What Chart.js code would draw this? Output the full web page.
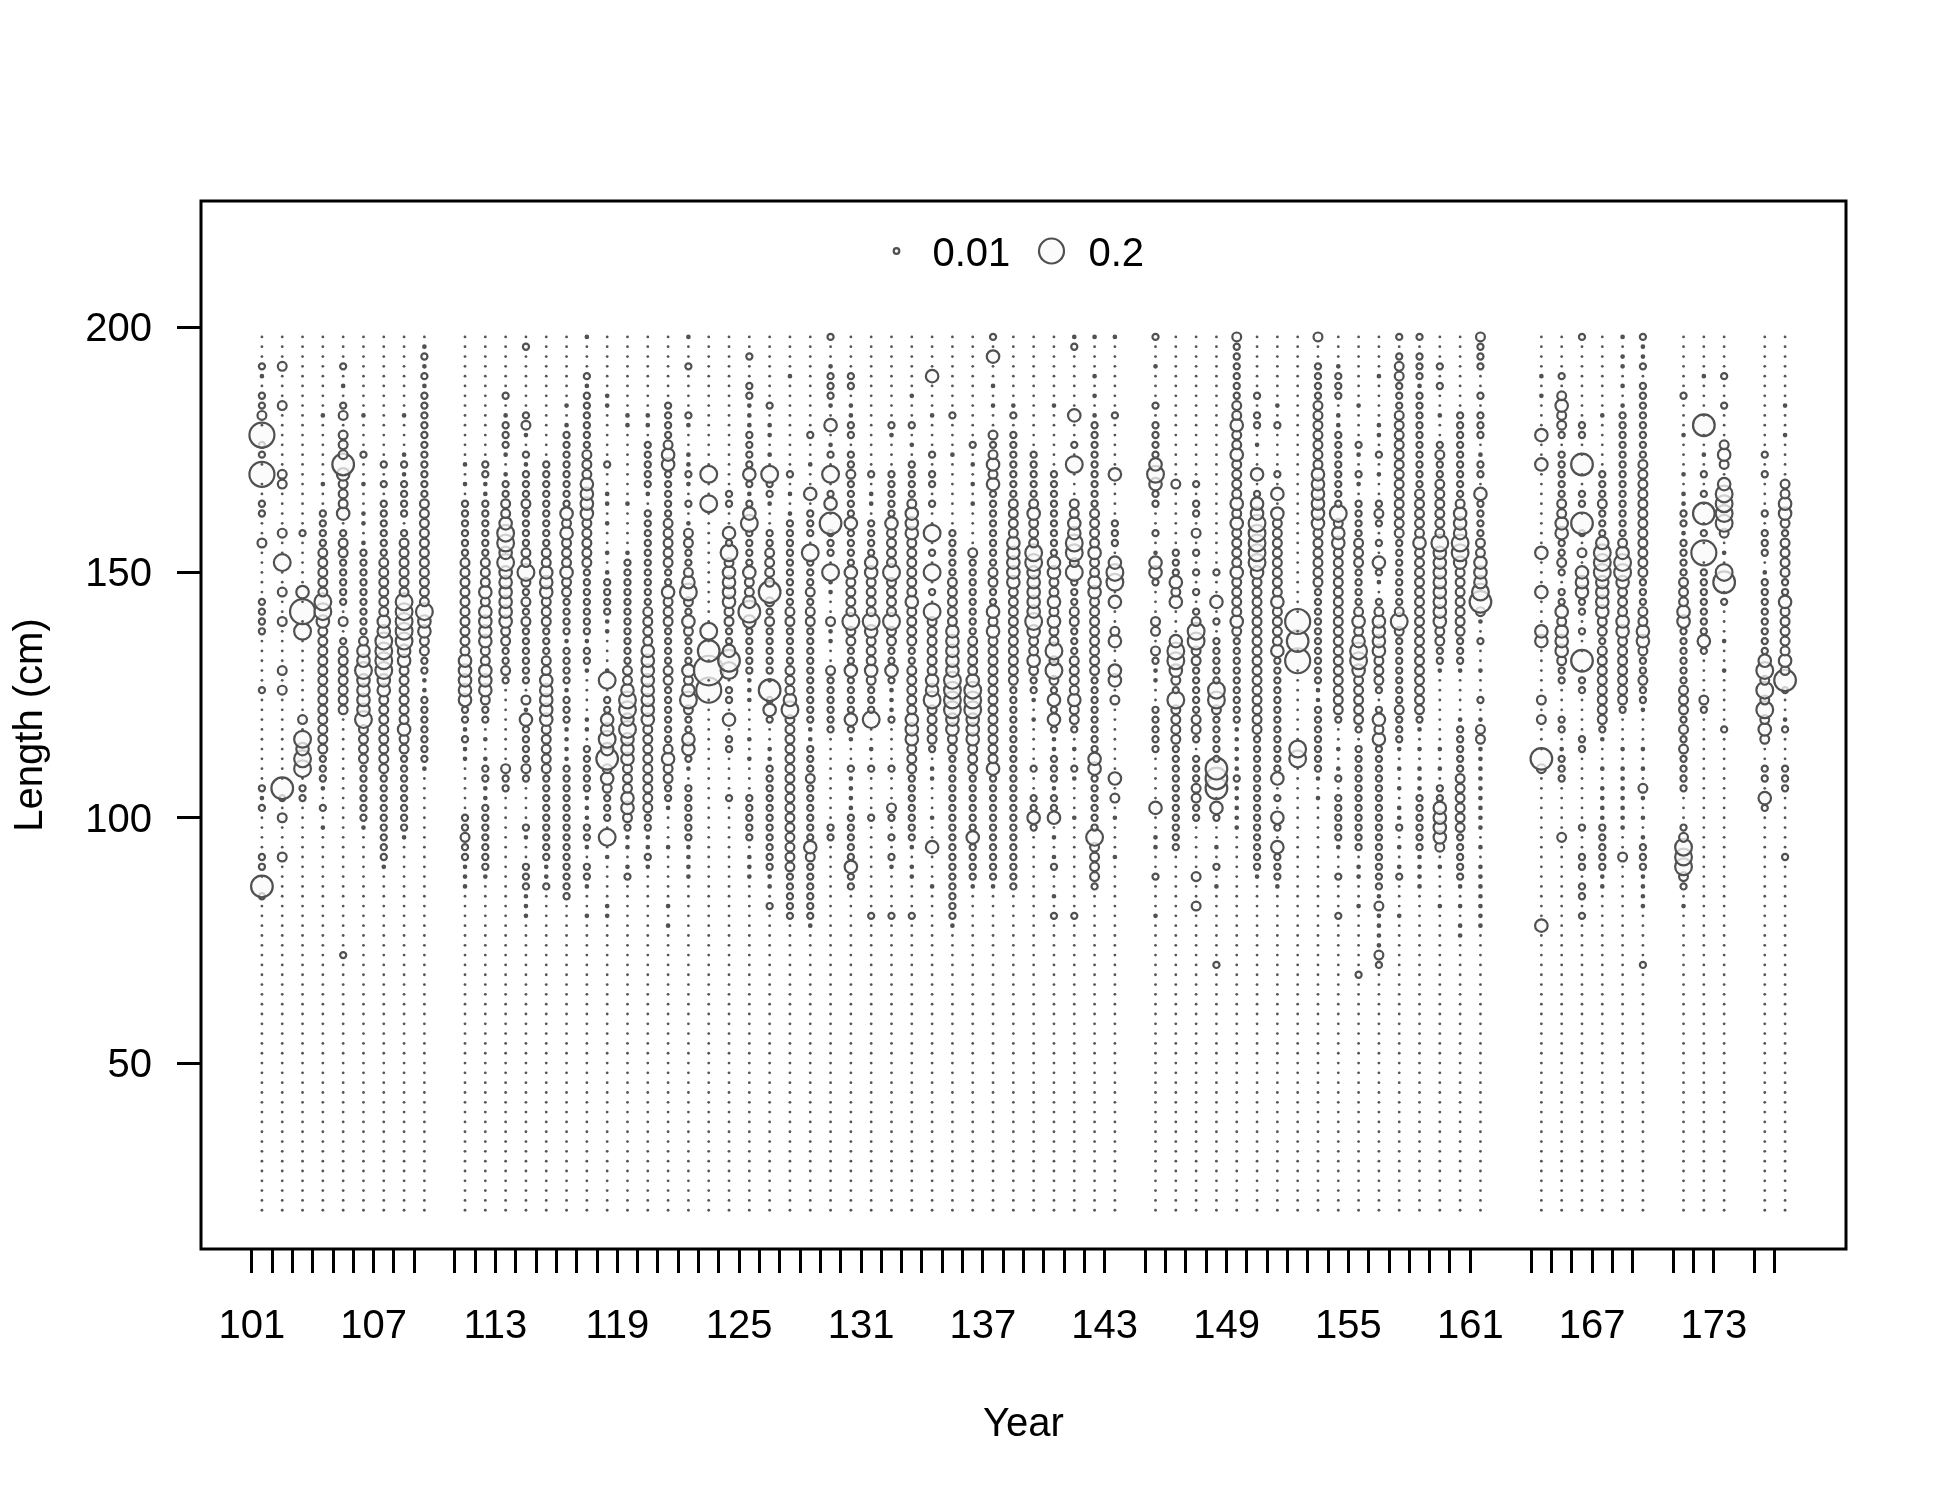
<!DOCTYPE html>
<html lang="en">
<head>
  <meta charset="UTF-8" />
  <title>Length composition bubbles</title>
  <style>
    html, body { margin: 0; padding: 0; background: #fff; }
    #wrap { width: 1950px; height: 1500px; }
  </style>
</head>
<body>
<div id="wrap"><canvas id="bubbles" width="1950" height="1500"></canvas></div>

<script src="https://cdn.jsdelivr.net/npm/chart.js"></script>
<script>
  // years with samples (110, 144, 162, 163, 170, 174 have none)
  const years = [101, 102, 103, 104, 105, 106, 107, 108, 109,
    111, 112, 113, 114, 115, 116, 117, 118, 119, 120, 121, 122, 123, 124, 125, 126, 127, 128, 129, 130,
    131, 132, 133, 134, 135, 136, 137, 138, 139, 140, 141, 142, 143,
    145, 146, 147, 148, 149, 150, 151, 152, 153, 154, 155, 156, 157, 158, 159, 160, 161,
    164, 165, 166, 167, 168, 169, 171, 172, 173, 175, 176];

  // length bins (cm)
  const lengths = [20, 22, 24, 26, 28, 30, 32, 34, 36, 38, 40, 42, 44, 46, 48, 50, 52, 54, 56, 58,
    60, 62, 64, 66, 68, 70, 72, 74, 76, 78, 80, 82, 84, 86, 88, 90, 92, 94, 96, 98,
    100, 102, 104, 106, 108, 110, 112, 114, 116, 118, 120, 122, 124, 126, 128, 130, 132, 134, 136, 138,
    140, 142, 144, 146, 148, 150, 152, 154, 156, 158, 160, 162, 164, 166, 168, 170, 172, 174, 176, 178,
    180, 182, 184, 186, 188, 190, 192, 194, 196, 198];

  // proportion read for each size step seen in the picture
  const sizeLevels = [0, 0.002, 0.012, 0.025, 0.05, 0.09, 0.15, 0.2, 0.28];

  // per year: "length:sizeStep" for every bin that is not empty
  const comps = [
    "192:2 190:1 186:2 184:2 182:3 178:7 176:2 174:2 170:7 164:2 162:2 156:3 144:2 142:2 140:2 138:2 126:2 106:2 104:1 102:2 92:2 90:2 86:6 84:2",
    "192:3 184:3 170:3 168:3 158:3 152:5 146:3 140:3 130:3 126:3 106:6 104:2 100:3 92:3",
    "158:2 146:4 142:7 138:5 120:3 116:5 114:4 112:5 110:5 106:2 104:2",
    "182:1 168:1 162:2 160:2 158:2 156:2 154:3 152:3 150:3 148:3 146:3 144:5 142:5 140:4 138:3 136:3 134:3 132:3 130:3 128:3 126:3 124:3 122:3 120:3 118:3 116:3 114:3 112:2 110:2 108:2 106:1 102:2 98:1",
    "192:2 188:1 184:2 182:3 178:3 176:3 174:3 172:6 170:4 168:3 166:3 164:3 162:4 158:2 156:3 154:3 152:2 150:2 148:2 146:2 144:2 140:3 136:2 134:3 132:3 130:3 128:3 126:3 124:3 122:3 72:2",
    "182:1 174:2 168:1 162:1 160:1 156:1 154:2 152:2 150:2 148:2 146:2 144:2 142:2 140:2 138:2 136:3 134:4 132:4 130:5 128:4 126:4 124:4 122:4 120:5 118:3 116:3 114:3 112:3 110:2 108:2 106:2 104:2 102:2 100:2 98:1",
    "172:2 168:2 164:2 162:2 160:2 158:2 156:2 154:2 152:3 150:3 148:3 146:3 144:3 142:3 140:4 138:4 136:5 134:5 132:5 130:5 128:4 126:4 124:3 122:3 120:3 118:3 116:3 114:3 112:3 110:3 108:2 106:2 104:2 102:2 100:2 98:2 96:2 94:2 92:2 90:1",
    "182:1 174:1 172:2 170:1 168:2 166:2 164:2 162:2 158:2 156:3 154:3 152:3 150:3 148:3 146:3 144:5 142:5 140:5 138:5 136:5 134:4 132:4 130:3 128:3 126:3 124:3 122:3 120:3 118:4 116:3 114:3 112:2 110:2 108:2 106:2 104:2 102:2 100:2 98:2 96:1",
    "196:1 194:2 192:1 190:2 188:1 186:2 184:2 182:2 180:2 178:2 176:2 174:2 172:2 170:2 168:2 166:2 164:3 162:3 160:3 158:3 156:3 154:3 152:3 150:3 148:3 146:3 144:3 142:5 140:4 138:4 136:3 134:3 132:2 130:2 128:1 126:1 124:2 122:2 120:2 118:2 116:2 114:2 112:2 110:1",
    "172:1 168:1 164:2 162:2 160:2 158:2 156:2 154:2 152:3 150:3 148:3 146:3 144:3 142:3 140:3 138:3 136:3 134:3 132:4 130:4 128:4 126:4 124:4 122:2 120:2 118:1 116:2 114:1 112:1 100:2 98:2 96:3 94:2 92:2 90:1 88:1 86:1",
    "172:2 170:2 168:1 166:1 164:2 162:2 160:2 158:2 156:2 154:2 152:3 150:3 148:3 146:4 144:3 142:4 140:4 138:4 136:4 134:3 132:3 130:4 128:4 126:4 124:3 122:2 120:2 116:1 112:1 110:2 108:2 106:1 104:1 102:2 100:2 98:2 96:2 94:2 92:2 90:2 88:1",
    "186:2 182:1 180:2 178:2 176:2 174:1 170:1 168:2 166:2 164:3 162:3 160:4 158:5 156:5 154:4 152:5 150:4 148:4 146:4 144:4 142:4 140:4 138:3 136:3 134:2 132:2 130:3 128:2 110:3 108:2 106:2",
    "196:2 182:2 180:3 178:1 174:2 172:1 170:2 168:2 166:2 164:3 162:2 160:2 158:2 156:2 154:3 152:3 150:5 148:3 146:2 144:3 142:2 140:3 138:2 136:2 134:2 132:2 130:2 128:2 124:3 122:1 120:4 118:2 116:2 114:2 112:2 110:3 108:2 98:2 96:1 90:2 88:2 86:2 84:1 82:1 80:1",
    "172:2 170:2 168:2 166:2 164:2 162:2 160:2 158:2 156:2 154:3 152:3 150:4 148:4 146:4 144:3 142:3 140:3 138:2 136:2 134:2 132:3 130:3 128:4 126:4 124:4 122:4 120:4 118:3 116:3 114:3 112:3 110:3 108:2 106:2 104:2 102:2 100:2 98:2 96:2 94:2 92:2 90:1 88:1 86:2",
    "184:1 180:1 178:2 176:2 174:2 172:2 170:2 168:2 166:2 164:2 162:4 160:3 158:4 156:3 154:3 152:3 150:4 148:3 146:3 144:2 142:2 140:2 138:2 136:1 134:2 132:2 130:2 128:2 126:1 124:2 122:2 120:2 118:1 116:1 114:1 112:1 110:2 108:2 106:2 104:2 102:2 100:2 98:2 96:2 94:2 92:2 90:2 88:2 86:2 84:2",
    "198:1 190:2 188:1 186:2 184:2 182:2 180:2 178:2 176:2 174:3 172:3 170:3 168:4 166:4 164:4 162:4 160:3 158:3 156:3 154:3 152:3 150:2 148:2 146:2 144:2 142:2 140:2 138:2 136:1 134:2 132:2 130:1 120:1 118:1 114:2 112:2 110:2 108:2 106:2 104:1 102:1 100:1 98:2 96:2 94:1 90:2 88:2 86:1 80:1",
    "186:1 184:1 172:2 166:1 164:1 160:1 154:1 150:1 148:2 146:2 144:2 142:2 140:1 138:1 130:1 128:5 124:2 122:2 120:4 118:4 116:5 114:4 112:6 110:3 108:4 106:3 104:2 102:2 100:2 96:5 92:1 82:1 80:1",
    "182:1 180:1 164:1 154:1 152:2 150:2 148:2 146:2 144:2 142:2 140:2 138:2 136:2 134:2 132:2 130:3 128:3 126:4 124:5 122:5 120:4 118:5 116:4 114:4 112:4 110:3 108:3 106:3 104:4 102:4 100:3 98:2 96:1 94:1 90:1 88:2",
    "182:1 180:1 176:2 174:2 172:2 170:2 168:2 166:1 162:2 160:2 158:2 156:2 154:2 152:2 150:2 148:2 146:2 144:2 142:3 140:3 138:3 136:3 134:4 132:4 130:4 128:4 126:4 124:4 122:4 120:4 118:3 116:3 114:3 112:3 110:3 108:3 106:3 104:3 102:3 100:2 98:2 96:1 94:1 92:2 90:1",
    "184:2 182:2 180:2 178:2 176:3 174:4 172:4 170:2 168:2 166:2 164:2 162:2 160:3 158:3 156:3 154:3 152:3 150:2 148:2 146:4 144:3 142:3 140:3 138:2 136:2 134:2 132:2 130:3 128:3 126:2 124:2 122:2 120:2 118:2 116:2 114:3 112:4 110:3 108:3 106:2 104:2 102:1 94:1 82:1 78:1",
    "198:1 192:2 182:2 180:1 174:1 172:1 170:2 168:1 164:2 160:1 158:3 156:3 154:2 152:2 150:3 148:4 146:5 144:3 142:2 140:4 138:3 136:2 134:2 132:2 130:4 128:3 126:4 124:5 122:3 120:2 118:2 116:4 114:4 112:2 110:1 106:2 104:2 102:2 100:2 98:2 96:2 94:1 92:1 90:1 88:1",
    "170:5 164:5 138:5 134:6 130:8 126:7",
    "166:2 164:2 158:4 156:2 154:5 152:3 150:4 148:4 146:4 144:4 142:3 140:3 138:2 136:2 134:4 132:6 130:5 126:2 124:2 120:4 116:2 114:2 104:2",
    "194:2 188:2 186:2 184:1 182:1 180:1 178:2 176:2 174:2 172:2 170:4 168:2 166:1 164:2 162:4 160:5 158:2 156:2 154:2 152:2 150:4 148:3 146:3 144:4 142:6 140:4 138:2 136:2 134:2 132:2 130:2 128:1 126:1 124:1 116:1 112:1 104:2 102:2 100:2 98:2 96:2 92:1 90:1 88:1",
    "184:2 180:1 178:1 174:1 170:5 168:2 166:2 164:1 158:2 156:2 154:3 152:3 150:3 148:3 146:6 144:3 142:2 140:3 138:2 136:2 134:2 132:2 130:2 128:1 126:6 124:2 122:4 120:2 114:1 112:1 110:2 108:2 106:2 104:2 102:2 100:2 98:2 96:2 94:2 92:2 90:2 88:1 86:1 82:2",
    "190:1 170:2 166:1 162:1 160:2 158:2 156:2 154:2 152:2 150:2 148:2 146:2 144:2 142:3 140:3 138:2 136:2 134:2 132:2 130:3 128:3 126:3 124:4 122:5 120:3 118:3 116:3 114:3 112:3 110:3 108:3 106:3 104:3 102:3 100:3 98:3 96:3 94:3 92:3 90:3 88:2 86:2 84:2 82:2 80:2",
    "178:2 172:1 166:4 162:2 160:2 158:2 154:5 152:2 150:2 148:2 146:3 144:2 142:3 140:3 138:2 136:2 134:2 132:2 130:2 128:2 126:2 124:2 122:2 120:2 118:1 116:1 114:2 112:2 110:2 108:3 106:2 104:2 102:2 100:2 98:2 96:2 94:4 92:3 90:2 88:2 86:2 84:2 82:2 80:2 78:1",
    "198:2 192:1 190:2 188:2 186:2 184:1 180:4 176:1 174:2 170:5 166:2 164:4 160:6 158:2 156:2 154:2 150:5 148:1 146:1 140:3 138:1 136:1 130:3 128:2 126:2 124:2 122:2 120:2 118:2 98:2 96:2",
    "190:2 188:2 184:1 182:1 180:2 178:2 174:2 172:2 170:3 168:2 166:2 164:2 162:2 160:4 158:2 156:2 154:2 152:2 150:4 148:3 146:3 144:3 142:3 140:5 138:3 136:3 134:2 132:2 130:4 128:2 126:2 124:2 122:2 120:4 118:2 116:1 110:2 108:1 106:1 104:1 102:1 100:2 98:2 96:2 94:2 92:2 90:4 88:2 86:2",
    "170:2 166:1 164:1 160:2 158:2 156:2 154:2 152:4 150:4 148:3 146:3 144:3 142:3 140:5 138:4 136:3 134:3 132:3 130:4 128:3 126:2 124:2 122:2 120:5 114:1 110:2 100:2 80:2",
    "180:2 178:1 170:2 168:2 166:2 164:2 162:2 160:4 158:3 156:3 154:3 152:3 150:5 148:3 146:3 144:3 142:3 140:5 138:3 136:3 134:2 132:2 130:4 128:2 126:1 124:1 122:1 120:2 110:2 102:3 100:2 96:2 92:2 90:1 80:2",
    "186:1 180:2 176:1 172:2 170:2 168:2 166:2 164:3 162:4 160:4 158:4 156:3 154:3 152:3 150:3 148:3 146:3 144:4 142:3 140:3 138:3 136:3 134:2 132:2 130:3 128:3 126:3 124:3 122:3 120:4 118:4 116:4 114:3 112:3 110:3 108:2 106:2 104:2 102:2 100:2 98:2 96:2 94:1 90:1 88:1 80:2",
    "190:4 182:1 174:2 170:2 168:2 164:2 158:5 154:2 150:5 146:2 142:5 140:3 138:3 136:3 134:3 132:3 130:3 128:4 126:4 124:5 122:3 120:3 118:3 116:3 114:2 110:1 108:1 100:1 94:4 86:1",
    "182:2 174:1 158:2 156:2 154:2 152:2 150:2 148:3 146:3 144:3 142:3 140:3 138:4 136:4 134:4 132:4 130:4 128:5 126:5 124:5 122:5 120:4 118:4 116:3 114:3 112:2 110:2 108:2 106:2 104:2 102:2 100:2 98:2 96:2 94:2 92:2 90:2 88:2 86:2 84:2 82:2 80:2 78:1",
    "176:2 172:1 168:1 164:1 154:3 152:2 150:2 148:2 146:2 144:2 142:2 140:2 138:2 136:3 134:3 132:3 130:3 128:4 126:5 124:5 122:5 120:4 118:4 116:4 114:3 112:3 110:3 108:2 106:2 104:2 102:2 100:2 98:2 96:4 94:2 92:2 90:2 88:2 86:1",
    "198:2 194:4 188:1 184:1 178:3 176:2 174:3 172:4 170:3 168:4 166:2 164:2 162:2 160:2 158:2 156:2 154:2 152:2 150:3 148:3 146:2 144:2 142:4 140:3 138:4 136:3 134:3 132:3 130:3 128:3 126:3 124:3 122:3 120:3 118:3 116:3 114:3 112:3 110:4 108:2 106:2 104:2 102:2 100:2 98:2 96:2 94:2 92:2 90:2 88:2 86:1",
    "184:1 182:2 178:2 176:2 174:2 172:2 170:2 168:2 166:2 164:3 162:3 160:3 158:3 156:4 154:4 152:4 150:4 148:4 146:3 144:3 142:3 140:3 138:3 136:3 134:3 132:3 130:3 128:3 126:2 124:2 122:2 120:2 118:2 116:2 114:2 112:2 110:2 108:2 106:2 104:2 102:2 100:2 98:2 96:2 94:2 92:2 90:2 88:2 86:2",
    "174:2 172:2 170:2 168:2 166:2 164:3 162:4 160:3 158:3 156:3 154:5 152:5 150:4 148:4 146:4 144:4 142:4 140:5 138:4 136:3 134:3 132:4 130:3 128:2 126:2 124:1 120:1 110:2 104:2 102:2 100:4 98:2",
    "184:1 170:2 168:2 166:2 164:2 162:2 160:2 158:2 156:2 154:2 152:4 150:4 148:3 146:3 144:4 142:3 140:4 138:3 136:3 134:5 132:3 130:5 128:3 126:2 124:4 122:2 120:4 118:2 116:1 114:1 112:2 110:2 108:2 106:1 104:2 102:2 100:4 96:1 92:1 90:2 84:1 80:2",
    "198:1 196:2 182:4 176:2 172:5 164:3 162:3 160:4 158:4 156:5 154:5 152:3 150:5 148:2 146:2 144:2 142:3 140:3 138:2 136:2 134:2 132:3 130:3 128:3 126:3 124:4 122:3 120:3 118:2 114:1 110:2 108:1 100:1 80:2",
    "198:1 190:1 186:1 182:1 180:2 178:2 176:2 174:2 172:2 170:2 168:2 166:2 164:2 162:3 160:3 158:3 156:3 154:4 152:3 150:3 148:4 146:4 144:3 142:3 140:3 138:3 136:3 134:3 132:3 130:3 128:2 126:2 124:2 122:2 120:2 118:2 116:2 114:2 112:4 110:4 108:2 106:2 104:2 102:2 100:2 98:2 96:5 94:3 92:3 90:3 88:3 86:2",
    "198:1 182:2 170:4 160:2 158:2 156:2 152:4 150:5 148:5 144:4 138:3 136:4 130:4 128:4 124:3 108:4 104:3 100:1 92:1",
    "198:2 192:1 184:2 180:2 178:2 176:2 174:2 172:4 170:5 168:4 166:2 164:2 158:2 154:1 152:4 150:4 148:2 140:3 138:3 134:3 132:2 130:1 128:1 122:2 120:2 118:2 116:2 114:2 102:4 96:1 94:1 88:2 80:1",
    "168:3 154:2 152:2 150:2 148:4 146:3 144:4 136:4 134:5 132:5 130:4 128:3 126:2 124:5 122:3 120:3 118:3 116:3 114:2 112:2 110:2 108:2 106:2 104:2 102:2 100:2 98:2 96:2 94:2",
    "168:2 164:2 162:2 158:3 154:2 150:2 146:2 142:2 140:3 138:5 136:5 134:3 132:3 130:2 128:2 126:2 124:2 122:2 120:3 118:3 116:2 112:2 110:2 108:2 106:3 104:3 102:2 100:2 88:3 82:3",
    "150:2 144:4 140:2 136:2 134:2 132:2 130:2 128:2 126:5 124:5 122:3 120:2 118:2 116:2 114:2 112:2 110:6 108:6 106:6 102:4 100:2 94:1 90:2 86:1 70:2",
    "198:3 196:2 194:2 192:2 190:2 188:2 186:2 184:3 182:3 180:4 178:3 176:3 174:4 172:3 170:3 168:3 166:3 164:4 162:3 160:4 158:3 156:3 154:3 152:3 150:4 148:3 146:3 144:3 142:3 140:4 138:3 136:2 134:2 132:2 130:2 128:2 126:2 124:2 122:2 120:2 118:1 116:1 114:1 112:1 110:1 108:2 106:1 104:1 102:1 100:1 98:1",
    "186:2 182:2 180:2 176:1 170:4 166:2 164:4 162:4 160:5 158:5 156:5 154:5 152:5 150:4 148:3 146:3 144:3 142:3 140:3 138:3 136:3 134:3 132:3 130:3 128:3 126:3 124:3 122:3 120:3 118:3 116:2 114:2 112:2 110:2 108:2 106:2 104:2 102:2 100:2 98:2 96:2 94:2 92:2 90:2 88:1",
    "184:1 180:2 170:2 166:4 162:4 160:3 158:3 156:3 154:3 152:3 150:3 148:3 146:3 144:4 142:3 140:3 138:3 136:3 134:4 132:2 130:2 128:2 126:2 124:2 122:2 120:2 118:2 116:2 114:2 112:2 110:2 108:4 104:2 100:4 98:2 94:4 92:2 90:2 88:2 86:1",
    "140:7 136:6 132:7 114:5 112:5",
    "198:3 192:2 190:2 188:2 186:2 184:3 182:3 180:3 178:3 176:3 174:3 172:3 170:4 168:4 166:4 164:4 162:4 160:4 158:3 156:3 154:3 152:3 150:3 148:3 146:2 144:2 142:2 140:2 138:2 136:2 134:2 132:2 130:2 128:2 126:1 124:1 122:2 120:2 118:2 116:2 114:2 112:2 110:2 108:1 104:1",
    "192:1 190:2 188:2 186:2 182:1 180:1 178:2 176:2 174:2 172:2 170:2 168:2 166:2 164:2 162:5 160:3 158:4 156:4 154:3 152:3 150:3 148:3 146:3 144:3 142:3 140:3 138:3 136:3 134:3 132:3 130:3 128:3 126:3 124:3 122:3 120:2 114:1 110:1 108:2 104:2 102:2 100:2 98:2 96:2 94:1 88:2 80:2",
    "184:1 176:2 174:1 170:2 168:1 164:2 162:2 160:2 158:2 156:3 154:3 152:3 150:2 148:2 146:2 144:2 142:3 140:4 138:3 136:4 134:5 132:5 130:4 128:3 126:3 124:3 122:3 120:3 118:2 114:2 112:2 110:2 108:2 106:2 104:2 102:2 100:2 98:2 96:2 94:2 90:1 88:1 82:1 68:2",
    "190:1 180:1 178:1 174:2 170:1 164:2 162:3 160:2 156:2 152:4 150:2 148:1 144:2 142:3 140:4 138:4 136:4 134:4 132:3 130:3 128:3 126:2 122:2 120:4 118:3 116:4 114:2 112:2 110:2 108:2 106:2 104:2 102:2 100:2 98:2 96:2 94:2 92:2 90:2 88:2 86:2 84:1 82:3 80:1 78:1 76:1 74:1 72:3 70:2",
    "198:2 194:2 192:3 190:3 188:2 186:2 184:2 182:3 180:3 178:3 176:3 174:3 172:3 170:3 168:3 166:3 164:3 162:3 160:3 158:3 156:2 154:2 152:2 150:2 148:2 146:2 144:2 142:3 140:5 138:3 136:2 134:2 132:2 130:2 128:2 126:2 124:2 122:3 120:2 118:2 116:2 114:1 110:1 106:1 102:1 100:1 98:2 94:1 90:1 88:2 80:1",
    "198:2 194:2 192:2 190:2 188:1 186:2 184:2 182:2 180:2 178:2 176:2 174:2 172:2 170:2 168:2 166:3 164:3 162:3 160:3 158:3 156:4 154:3 152:3 150:3 148:3 146:3 144:3 142:3 140:3 138:3 136:3 134:3 132:3 130:3 128:3 126:3 124:3 122:3 120:2 118:1 114:1 110:1 108:1 106:1 104:2 102:2 100:2 98:2 96:2 94:2 92:1 90:1 88:1 86:1",
    "192:2 188:2 182:1 176:2 174:3 172:2 170:2 168:3 166:3 164:3 162:3 160:3 158:3 156:5 154:4 152:4 150:4 148:4 146:4 144:4 142:4 140:4 138:3 136:3 134:2 132:2 130:1 114:1 110:1 106:2 104:2 102:4 100:4 98:4 96:4 94:3 90:1 82:1",
    "182:2 180:2 178:2 176:2 174:2 172:2 170:2 168:2 166:2 164:3 162:4 160:4 158:4 156:5 154:5 152:4 150:3 148:3 146:3 144:3 142:3 140:3 138:3 136:2 134:2 132:2 130:1 120:1 118:2 116:2 114:2 112:2 110:2 108:3 106:3 104:3 102:3 100:3 98:3 96:2 94:2 92:2 90:2 88:2 86:1 82:1 78:1 76:1",
    "198:3 196:2 194:2 192:2 186:2 182:2 180:2 178:2 174:1 172:2 170:2 166:4 164:2 162:2 160:2 158:2 156:3 154:3 152:4 150:4 148:4 146:5 144:6 142:3 140:1 136:2 130:1 124:2 120:1 118:3 116:3 114:1 112:1 110:1 108:1 106:1 104:1 102:1 100:1 98:1 94:1 90:1 88:1 86:1 84:1 82:1 80:1 78:1",
    "190:1 186:1 178:4 172:4 154:4 146:4 138:4 136:4 124:3 120:3 112:6 110:3 78:4",
    "190:2 186:3 184:4 182:3 180:3 178:2 174:2 172:2 170:2 168:2 166:2 164:3 162:3 160:4 158:4 156:2 154:2 152:3 150:2 146:2 144:2 142:4 140:3 138:4 136:4 134:4 132:3 130:2 128:2 120:2 118:2 114:1 112:2 110:2 108:2 96:3",
    "198:2 180:2 178:2 172:6 166:2 164:2 160:6 158:2 154:3 150:4 148:4 146:4 144:2 142:2 138:2 132:6 128:2 126:2 116:2 114:2 98:2 92:2 90:2 86:2 84:2 80:2",
    "182:1 170:2 168:2 166:2 164:3 162:2 160:2 158:2 156:4 154:5 152:5 150:5 148:4 146:4 144:4 142:4 140:3 138:3 136:2 134:3 132:3 130:3 128:3 126:3 124:3 122:3 120:3 118:2 116:1 110:1 106:1 104:1 102:1 100:1 98:2 96:2 94:2 92:2 90:2 88:1 86:1",
    "198:1 194:1 192:1 188:1 184:1 182:2 180:2 178:2 176:2 174:2 172:2 170:2 168:2 166:2 164:2 162:2 160:2 158:2 156:3 154:4 152:5 150:5 148:4 146:3 144:3 142:3 140:4 138:4 136:3 134:3 132:3 130:3 128:3 126:3 124:3 122:2 114:1 110:1 108:1 106:1 104:1 102:1 100:1 98:1 92:3",
    "198:2 196:1 194:1 192:2 188:2 186:2 184:2 182:2 180:2 178:2 176:2 174:2 172:3 170:3 168:3 166:3 164:3 162:3 160:3 158:3 156:3 154:3 152:3 150:3 148:2 146:2 144:2 142:3 140:3 138:4 136:4 134:3 132:2 130:2 128:3 126:2 124:2 122:1 114:1 110:1 106:3 104:1 100:1 96:1 94:2 92:2 90:2 88:1 86:1 84:1 82:1 70:2",
    "186:2 178:1 170:1 166:1 164:1 162:2 160:2 158:1 156:2 154:2 152:2 150:2 148:3 146:3 144:3 142:4 140:4 138:2 136:2 134:2 132:2 130:2 128:2 126:3 124:3 122:3 120:2 118:3 116:2 114:3 112:2 110:2 108:2 106:2 98:2 96:3 94:5 92:5 90:5 88:3 86:2 82:1",
    "190:1 180:6 174:1 170:2 166:2 162:6 158:2 154:7 150:2 148:2 146:2 144:2 142:2 140:2 138:2 136:4 134:2 124:3 122:2",
    "190:2 184:2 176:3 174:4 172:3 168:4 166:5 164:5 162:5 160:5 158:3 154:1 150:5 148:6 144:2 136:1 130:1 118:2",
    "174:2 170:2 162:2 158:2 156:2 154:2 150:1 148:2 146:2 144:2 142:2 140:2 138:2 136:2 134:2 132:4 130:5 128:3 126:5 124:3 122:5 120:3 118:4 116:3 110:2 108:2 104:4 102:2",
    "184:1 178:1 168:3 166:3 164:4 162:4 160:3 158:2 156:3 154:3 152:3 150:3 148:2 146:2 144:4 142:3 140:3 138:3 136:3 134:3 132:4 130:3 128:6 126:2 120:1 118:2 110:2 108:2 106:2 92:2"
  ];

  const xLabels = [101, 107, 113, 119, 125, 131, 137, 143, 149, 155, 161, 167, 173];
  const yTicks = [50, 100, 150, 200];
  const legendValues = [0.01, 0.2];

  const midYear = 0.5;      // samples sit in the middle of the year
  const radiusScale = 27.95; // px radius = radiusScale * sqrt(proportion)
  const zeroRadius = 1.4;

  function bubbleRadius(v) {
    return radiusScale * Math.sqrt(v);
  }

  const zeroPts = [];
  const obsPts = [];
  years.forEach((yr, i) => {
    const seen = {};
    comps[i].split(' ').forEach(tok => {
      const parts = tok.split(':');
      seen[parts[0]] = sizeLevels[+parts[1]];
    });
    lengths.forEach(len => {
      const v = seen[len];
      if (v) {
        obsPts.push({ x: yr + midYear, y: len, v: v });
      } else {
        zeroPts.push({ x: yr + midYear, y: len });
      }
    });
  });

  const FONT = "'Liberation Sans', Arial, sans-serif";
  const FONT_SIZE = 40;
  Chart.defaults.font.family = FONT;
  Chart.defaults.color = '#000';

  const boxAndLegend = {
    id: 'boxAndLegend',
    afterDraw(chart) {
      const { ctx, chartArea: a } = chart;
      ctx.save();
      ctx.strokeStyle = '#000';
      ctx.lineWidth = 3;
      ctx.strokeRect(a.left, a.top, a.right - a.left, a.bottom - a.top);

      // size legend at the top of the panel
      const cx = (a.left + a.right) / 2;
      const ly = a.top + 50;
      const items = [
        { v: legendValues[0], px: cx - 127, tx: cx - 91 },
        { v: legendValues[1], px: cx + 28, tx: cx + 65 }
      ];
      ctx.font = FONT_SIZE + 'px ' + FONT;
      ctx.textBaseline = 'middle';
      ctx.textAlign = 'left';
      items.forEach(it => {
        ctx.beginPath();
        ctx.arc(it.px, ly, bubbleRadius(it.v), 0, Math.PI * 2);
        ctx.fillStyle = 'rgba(250,250,250,0.8)';
        ctx.fill();
        ctx.lineWidth = 2.2;
        ctx.strokeStyle = '#505050';
        ctx.stroke();
        ctx.fillStyle = '#000';
        ctx.fillText(String(it.v), it.tx, ly + 4);
      });
      ctx.restore();
    }
  };

  new Chart(document.getElementById('bubbles'), {
    type: 'scatter',
    data: {
      datasets: [
        {
          label: 'zero',
          data: zeroPts,
          pointRadius: zeroRadius,
          pointBackgroundColor: '#555',
          pointBorderWidth: 0
        },
        {
          label: 'obs',
          data: obsPts,
          pointRadius: c => bubbleRadius(c.raw.v),
          pointBackgroundColor: 'rgba(250,250,250,0.75)',
          pointBorderColor: '#505050',
          pointBorderWidth: 2.2
        }
      ]
    },
    options: {
      responsive: false,
      animation: false,
      events: [],
      layout: { autoPadding: false, padding: { top: 201, right: 104, left: 0, bottom: 0 } },
      plugins: { legend: { display: false }, tooltip: { enabled: false } },
      scales: {
        x: {
          type: 'linear',
          position: 'bottom',
          min: 98.5,
          max: 179.5,
          afterBuildTicks: s => { s.ticks = years.map(v => ({ value: v })); },
          afterFit: s => { s.height = 251; },
          border: { display: false },
          grid: {
            drawOnChartArea: false,
            drawTicks: true,
            tickLength: 24,
            tickColor: '#000',
            tickWidth: 3,
            lineWidth: 3,
            color: '#000'
          },
          ticks: {
            autoSkip: false,
            maxRotation: 0,
            padding: 30,
            font: { size: FONT_SIZE },
            color: '#000',
            callback: v => (xLabels.includes(v) ? String(v) : '')
          },
          title: {
            display: true,
            text: 'Year',
            font: { size: FONT_SIZE },
            color: '#000',
            padding: { top: 0, bottom: 51 }
          }
        },
        y: {
          type: 'linear',
          position: 'left',
          min: 12.1,
          max: 225.7,
          afterBuildTicks: s => { s.ticks = yTicks.map(v => ({ value: v })); },
          afterFit: s => { s.width = 201; },
          border: { display: false },
          grid: {
            drawOnChartArea: false,
            drawTicks: true,
            tickLength: 24,
            tickColor: '#000',
            tickWidth: 3,
            lineWidth: 3,
            color: '#000'
          },
          ticks: {
            autoSkip: false,
            padding: 25,
            labelOffset: 3,
            font: { size: FONT_SIZE },
            color: '#000'
          },
          title: {
            display: true,
            text: 'Length (cm)',
            font: { size: FONT_SIZE },
            color: '#000',
            padding: { top: 7, bottom: 0 }
          }
        }
      }
    },
    plugins: [boxAndLegend]
  });
</script>
</body>
</html>
